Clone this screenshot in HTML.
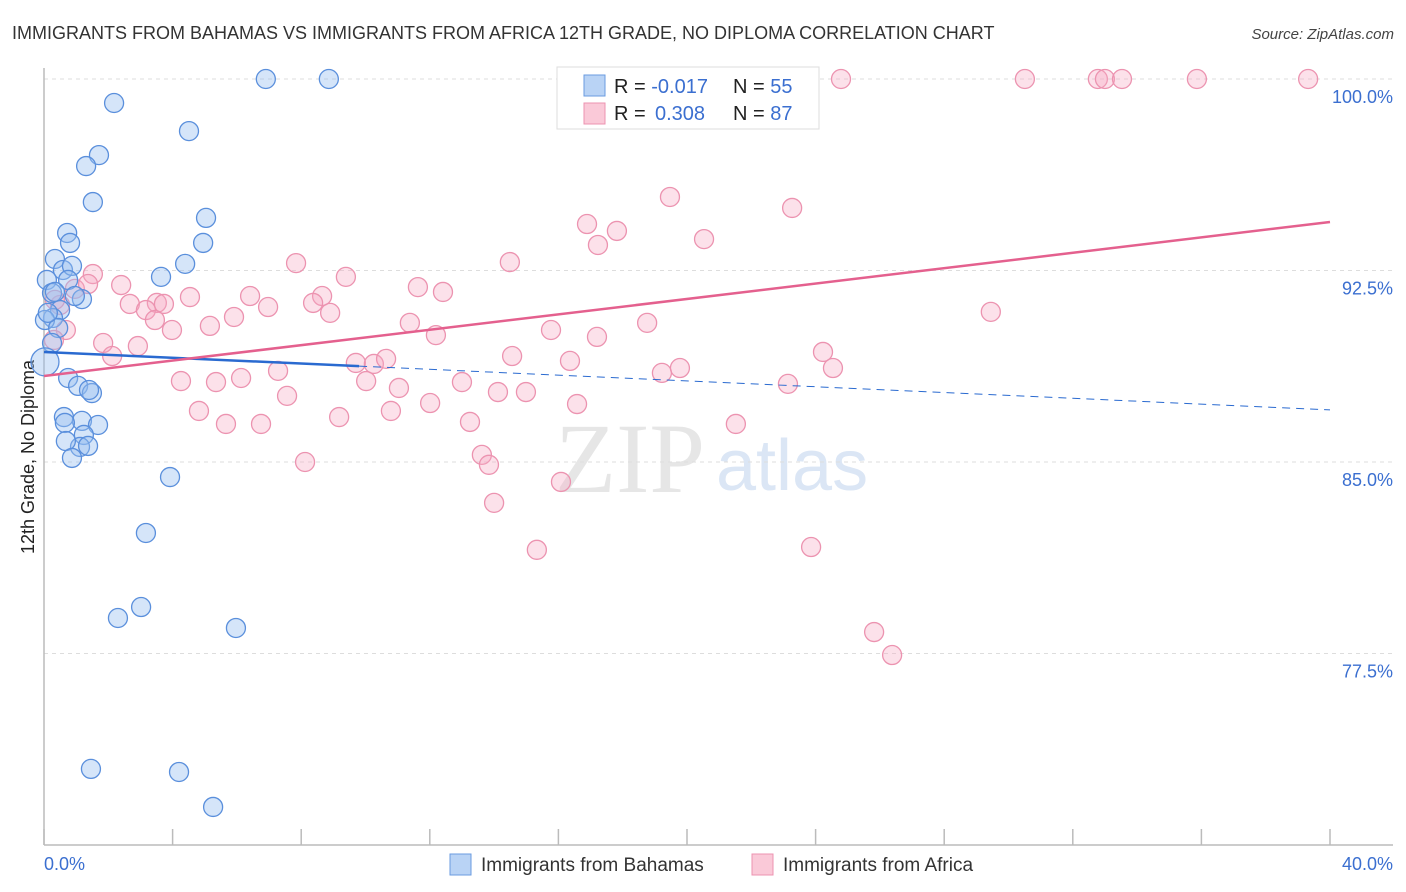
<!DOCTYPE html>
<html><head><meta charset="utf-8"><style>
body{margin:0;background:#fff;font-family:"Liberation Sans",sans-serif;}
svg{display:block}
</style></head><body>
<svg id="chart" width="1406" height="892" viewBox="0 0 1406 892" xmlns="http://www.w3.org/2000/svg">
<text x="12" y="39" font-size="18" fill="#333">IMMIGRANTS FROM BAHAMAS VS IMMIGRANTS FROM AFRICA 12TH GRADE, NO DIPLOMA CORRELATION CHART</text>
<text x="1394" y="39" font-size="15" font-style="italic" fill="#444" text-anchor="end">Source: ZipAtlas.com</text>
<text x="555" y="492" font-family="Liberation Serif,serif" font-size="100" fill="#e6e6e6">ZIP</text>
<text x="716" y="490" font-size="72" fill="#dbe6f5">atlas</text>
<g id="grid"></g>
<line x1="44" y1="68" x2="44" y2="845" stroke="#bbb" stroke-width="1.5"/>
<line x1="44" y1="845" x2="1393" y2="845" stroke="#bbb" stroke-width="1.5"/>
<g id="xticks"></g>
<g id="ylabels"></g>
<text x="44" y="870" font-size="18" fill="#3b6fd0">0.0%</text>
<text x="1393" y="870" font-size="18" fill="#3b6fd0" text-anchor="end">40.0%</text>
<text transform="translate(34,457) rotate(-90)" font-size="18" fill="#222" text-anchor="middle">12th Grade, No Diploma</text>
<g id="pink"></g>
<g id="blue"></g>
<g id="trends"></g>
<g>
<rect x="557" y="67" width="262" height="62" fill="#fff" stroke="#ddd"/>
<rect x="584" y="75" width="21" height="21" fill="#b9d3f5" stroke="#6a9be0"/>
<rect x="584" y="103" width="21" height="21" fill="#fac9d8" stroke="#ec93b0"/>
<text x="614" y="93" font-size="20" fill="#222">R = <tspan fill="#3b6fd0">-0.017</tspan><tspan x="733">N = </tspan><tspan fill="#3b6fd0">55</tspan></text>
<text x="614" y="120" font-size="20" fill="#222">R = <tspan fill="#3b6fd0" x="655">0.308</tspan><tspan x="733">N = </tspan><tspan fill="#3b6fd0">87</tspan></text>
</g>
<g>
<rect x="450" y="854" width="21" height="21" fill="#b9d3f5" stroke="#6a9be0"/>
<text x="481" y="871" font-size="19" fill="#333">Immigrants from Bahamas</text>
<rect x="752" y="854" width="21" height="21" fill="#fac9d8" stroke="#ec93b0"/>
<text x="783" y="871" font-size="19" fill="#333">Immigrants from Africa</text>
</g>
</svg>
<script>
const blueX=[6.90,8.86,2.18,4.51,1.71,1.31,1.52,5.04,0.72,4.95,0.81,0.34,4.39,0.59,3.64,0.87,0.09,0.25,0.75,1.18,0.34,0.96,0.50,0.28,0.03,0.44,0.12,0.25,0.03,0.75,1.06,1.49,1.40,0.62,1.18,1.68,0.65,1.24,1.12,1.37,0.68,0.87,3.92,3.17,3.02,2.30,5.97,1.46,4.20,5.26];
const blueY=[100,100,99.06,97.96,97.02,96.59,95.18,94.56,93.97,93.58,93.58,92.95,92.76,92.52,92.25,92.68,92.13,91.62,92.13,91.38,91.66,91.50,90.95,90.64,90.56,90.25,90.84,89.66,88.92,88.29,87.98,87.70,87.82,86.76,86.61,86.45,86.53,86.06,85.59,85.63,85.82,85.16,84.41,82.22,79.32,78.89,78.50,72.98,72.86,71.49];
const pinkX=[20.22,22.08,24.79,30.51,32.78,33.00,33.53,35.86,39.32,19.47,16.89,17.82,17.23,23.27,20.53,14.49,7.84,9.39,11.63,12.41,8.65,6.41,4.54,1.52,2.40,2.67,3.51,3.73,3.17,3.45,3.98,5.16,5.91,6.97,8.37,8.90,11.38,12.19,15.77,17.20,18.76,29.45,0.50,0.34,0.96,1.37,1.84,2.12,2.92,0.68,0.31,14.56,16.36,9.70,10.26,10.64,24.23,24.54,7.28,4.26,5.35,6.13,10.02,11.04,13.00,19.22,19.78,23.14,7.56,4.82,5.66,6.75,9.18,10.79,12.01,14.12,14.99,16.58,13.25,21.52,13.62,13.84,8.12,16.08,14.00,15.33,23.86,25.82,26.38];
const pinkY=[100,100,100,100,100,100,100,100,100,95.38,94.32,94.05,93.50,94.95,93.73,92.83,92.79,92.25,91.85,91.66,91.50,91.50,91.46,92.36,91.93,91.19,91.23,91.19,90.95,90.56,90.17,90.33,90.68,91.07,91.23,90.84,90.45,89.97,90.17,89.90,90.45,90.88,91.15,91.35,91.78,91.97,89.66,89.15,89.54,90.17,89.78,89.15,88.96,88.88,88.84,89.04,89.31,88.68,88.57,88.17,88.13,88.29,88.17,87.90,88.13,88.49,88.68,88.06,87.59,87.00,86.49,86.49,86.76,87.00,87.31,87.74,87.74,87.27,86.57,86.49,85.28,84.89,85.00,84.22,83.40,81.56,81.67,78.34,77.44];
const yTicks=[100,92.5,85,77.5];
const yTickLabels=["100.0%","92.5%","85.0%","77.5%"];
const xTicks=[0,4,8,12,16,20,24,28,32,36,40];
const blueTrend=[89.31,87.04];
const pinkTrend=[88.37,94.40];
const blueSolidEnd=9.8;
const NS="http://www.w3.org/2000/svg";
const sx=v=>44+v*(1286/40);
const sy=v=>79+(100-v)*(191.5/7.5);
function mk(tag,attrs,parent){const e=document.createElementNS(NS,tag);for(const k in attrs)e.setAttribute(k,attrs[k]);parent.appendChild(e);return e;}
const grid=document.getElementById('grid'),yl=document.getElementById('ylabels'),xt=document.getElementById('xticks');
yTicks.forEach((t,i)=>{
 const l=mk('line',{x1:44,x2:1393,y1:sy(t),y2:sy(t),stroke:'#ddd','stroke-dasharray':'4,4'},grid);
 
 
 const tx=mk('text',{x:1393,y:sy(t)+24,'font-size':18,fill:'#3b6fd0','text-anchor':'end'},yl);
 tx.textContent=yTickLabels[i];
 
 
});
xTicks.forEach(t=>{
 const l=mk('line',{x1:sx(t),x2:sx(t),y1:829,y2:845,stroke:'#bbb','stroke-width':1.5},xt);
 
 
});
const pg=document.getElementById('pink');
pinkX.forEach((x,i)=>{
 const c=mk('circle',{cx:sx(x),cy:sy(pinkY[i]),r:9.5,fill:'rgba(246,170,195,0.35)',stroke:'#ec93b0','stroke-width':1.3},pg);
 
 
});
const bg=document.getElementById('blue');
blueX.forEach((x,i)=>{
 const c=mk('circle',{cx:sx(x),cy:sy(blueY[i]),r:(i==28?14:9.5),fill:'rgba(150,190,240,0.4)',stroke:'#5a8fdc','stroke-width':1.3},bg);
 
 
});
const tg=document.getElementById('trends');
const by=x=>blueTrend[0]+(blueTrend[1]-blueTrend[0])*x/40;
const a=mk('line',{x1:sx(0),y1:sy(blueTrend[0]),x2:sx(blueSolidEnd),y2:sy(by(blueSolidEnd)),stroke:'#2a6ad0','stroke-width':2.5},tg);


const b=mk('line',{x1:sx(blueSolidEnd),y1:sy(by(blueSolidEnd)),x2:sx(40),y2:sy(blueTrend[1]),stroke:'#2a6ad0','stroke-width':1,'stroke-dasharray':'8,6'},tg);


const p=mk('line',{x1:sx(0),y1:sy(pinkTrend[0]),x2:sx(40),y2:sy(pinkTrend[1]),stroke:'#e4608e','stroke-width':2.5},tg);


</script>
</body></html>
